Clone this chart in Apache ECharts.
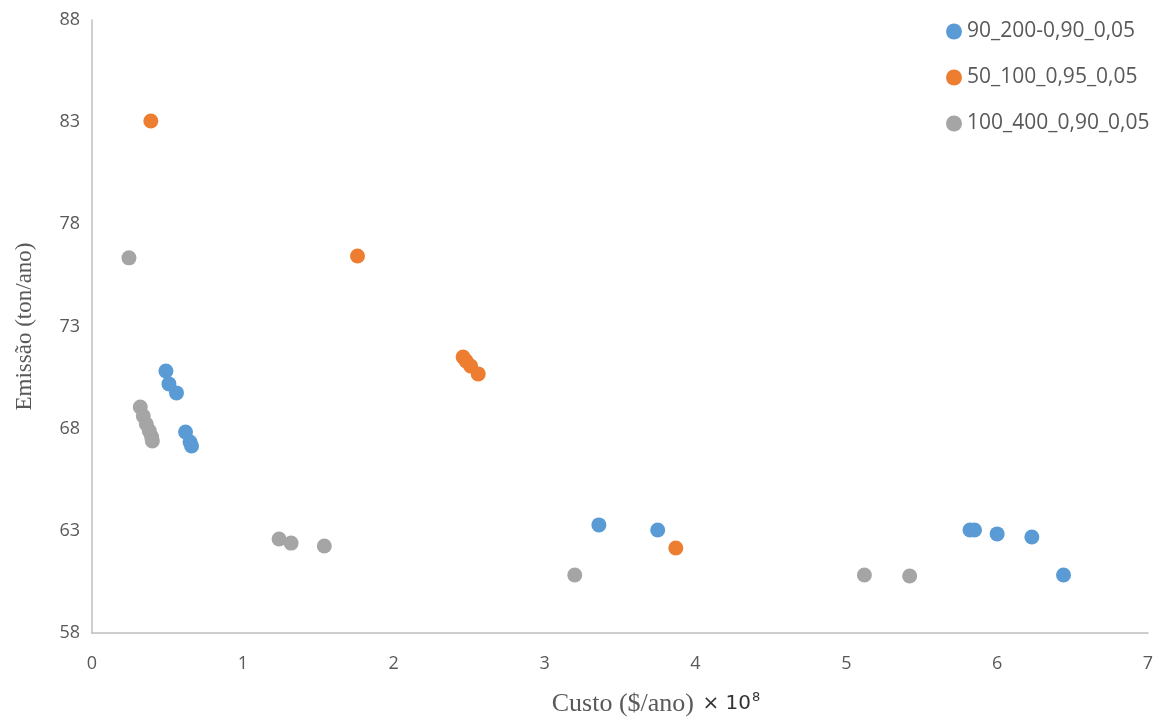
<!DOCTYPE html>
<html><head><meta charset="utf-8">
<script src="https://cdn.jsdelivr.net/npm/echarts@6/dist/echarts.min.js"></script>
<style>html,body{margin:0;padding:0;background:#fff}#c{width:1159px;height:718px}</style>
</head><body><div id="c"></div>
<script>
const seriesNames = ['90_200-0,90_0,05', '50_100_0,95_0,05', '100_400_0,90_0,05'];
const blue = [[0.49,70.82],[0.51,70.19],[0.56,69.75],[0.62,67.84],[0.65,67.35],[0.66,67.15],[3.36,63.29],[3.75,63.04],[5.82,63.04],[5.85,63.04],[6.00,62.85],[6.23,62.70],[6.44,60.84]];
const orange = [[0.39,83.06],[1.76,76.45],[2.46,71.51],[2.48,71.31],[2.51,71.07],[2.56,70.68],[3.87,62.16]];
const gray = [[0.245,76.36],[0.32,69.06],[0.34,68.62],[0.36,68.23],[0.38,67.89],[0.395,67.6],[0.40,67.40],[1.24,62.6],[1.32,62.4],[1.54,62.26],[3.20,60.84],[5.12,60.84],[5.42,60.79]];
const colors = ['#5B9BD5','#ED7D31','#A5A5A5'];
const chart = echarts.init(document.getElementById('c'));
const mk = (name, data, color) => ({name, type:'scatter', data, symbolSize:15, itemStyle:{color, opacity:1}});
chart.setOption({
  animation:false,
  grid:{left:92, right:11, top:20, bottom:85, containLabel:false, outerBoundsMode:'none'},
  legend:{orient:'vertical', left:941, top:16, itemGap:25, itemWidth:16, itemHeight:16, icon:'circle',
    textStyle:{color:'#595959', fontSize:21, fontFamily:'"Open Sans", sans-serif'}, data:seriesNames},
  xAxis:{type:'value', min:0, max:7, interval:1,
    axisLine:{show:true, lineStyle:{color:'#BFBFBF', width:1.5}}, axisTick:{show:false}, splitLine:{show:false},
    axisLabel:{color:'#595959', fontSize:18, margin:22, fontFamily:'"Open Sans", sans-serif'},
    name:'{a|Custo ($/ano) }{b|× 10}{c|8}', nameLocation:'middle', nameGap:58,
    nameTextStyle:{padding:[0,0,0,72], rich:{
      a:{fontFamily:'"Liberation Serif", "Times New Roman", serif', fontSize:26, color:'#595959', padding:[0,2,0,0]},
      b:{fontFamily:'"DejaVu Sans", sans-serif', fontSize:20, color:'#333'},
      c:{fontFamily:'"DejaVu Sans", sans-serif', fontSize:13, color:'#333', verticalAlign:'top', padding:[0,0,13,1]}}}},
  yAxis:{type:'value', min:58, max:88, interval:5,
    axisLine:{show:true, lineStyle:{color:'#BFBFBF', width:1.5}}, axisTick:{show:false}, splitLine:{show:false},
    axisLabel:{color:'#595959', fontSize:18, margin:12, fontFamily:'"Open Sans", sans-serif'},
    name:'Emissão (ton/ano)', nameLocation:'middle', nameGap:56,
    nameTextStyle:{fontFamily:'"Liberation Serif", "Times New Roman", serif', fontSize:23, color:'#595959'}},
  series:[mk(seriesNames[0], blue, colors[0]), mk(seriesNames[1], orange, colors[1]), mk(seriesNames[2], gray, colors[2])]
});
</script></body></html>
